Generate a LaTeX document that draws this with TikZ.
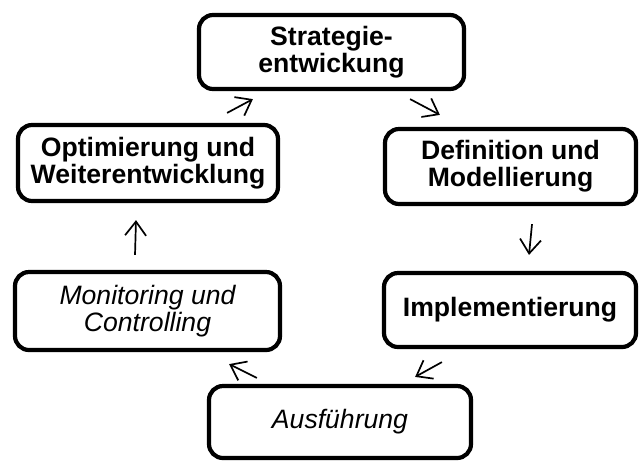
\documentclass[tikz,border=0pt]{standalone}
\usepackage{fontspec}
\setmainfont{Liberation Sans}
\usetikzlibrary{calc}
\usetikzlibrary{arrows.meta}

\begin{document}
\begin{tikzpicture}[x=0.5pt, y=-0.5pt,
  box/.style={rectangle, draw, line width=2.1pt, rounded corners=7pt, align=center,
    minimum width=131pt, minimum height=37.5pt, inner sep=0pt,
    font=\fontsize{13.3pt}{13.6pt}\selectfont\bfseries},
  slanted/.style={box, font=\fontsize{13.3pt}{13.6pt}\selectfont\itshape},
  flow/.style={->, >={Straight Barb[length=7pt,width=10.5pt]}, line width=0.85pt}]
\useasboundingbox (0,0) rectangle (640,462);
 \node[box, minimum width=132.5pt, minimum height=37pt] (strat) at (331.5,52) {Strategie-\\entwickung};
  \node[box, minimum width=125.5pt] (defn) at (510.5,166.5) {Definition und\\Modellierung};
   \node[box, minimum width=126pt, minimum height=37pt] (impl) at (510,310) {Implementierung};
    \node[slanted, minimum height=36pt] (ausf) at (340,422) {Ausführung};
   \node[slanted, minimum width=132.5pt, minimum height=39pt] (mon) at (147.5,311) {Monitoring und\\Controlling};
  \node[box, minimum width=130pt, minimum height=38pt] (opt) at (148,163) {Optimierung und\\Weiterentwicklung};

       \draw[flow] ($(opt.north east)+(-53,-10)$) -- ($(strat.south west)+(56,8)$);
         \draw[flow] ($(strat.south east)+(-56,8)$) -- ($(defn.north west)+(57,-12)$);
         \draw[flow] ($(defn.south)+(21.5,18)$) -- ($(impl.north)+(19,-16)$);
         \draw[flow] ($(impl.south west)+(60,13)$) -- ($(ausf.north east)+(-58,-7)$);
         \draw[flow] ($(ausf.north west)+(50,-6)$) -- ($(mon.south east)+(-53,12)$);
         \draw[flow] ($(mon.north)+(-12.5,-15)$) -- ($(opt.south)+(-12,17)$);
\end{tikzpicture}
\end{document}
